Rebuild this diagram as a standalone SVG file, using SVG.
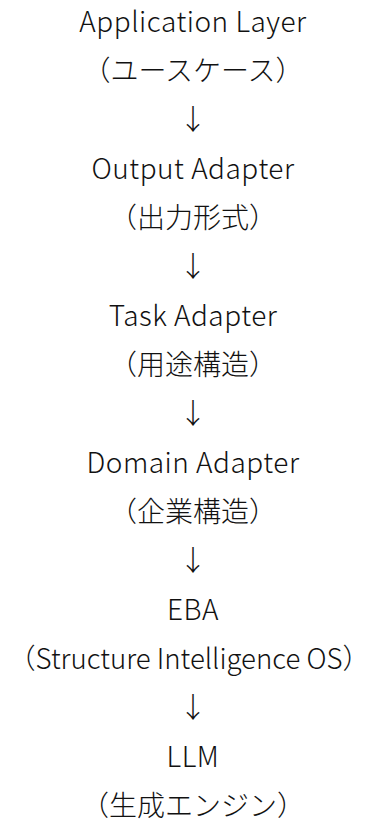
<svg xmlns="http://www.w3.org/2000/svg" width="377" height="823" viewBox="0 0 377 823">
<style>
text{font-family:"Noto Sans CJK JP","Noto Sans",sans-serif;font-size:28px;font-weight:300;fill:#111111;text-anchor:middle;}
.lat{letter-spacing:0.5px;}
</style>
<rect width="377" height="823" fill="#ffffff"/>
<g id="n-app"><text class="lat" x="193" y="32">Application Layer</text><text x="193" y="81">（ユースケース）</text></g>
<g id="n-output"><text class="lat" x="193" y="179">Output Adapter</text><text x="193" y="228">（出力形式）</text></g>
<g id="n-task"><text class="lat" x="193" y="326">Task Adapter</text><text x="193" y="375">（用途構造）</text></g>
<g id="n-domain"><text class="lat" x="193" y="473">Domain Adapter</text><text x="193" y="522">（企業構造）</text></g>
<g id="n-eba"><text class="lat" x="193" y="620">EBA</text><text x="189" y="669" textLength="362" lengthAdjust="spacingAndGlyphs">（Structure Intelligence OS）</text></g>
<g id="n-llm"><text class="lat" x="193" y="767">LLM</text><text x="193" y="816">（生成エンジン）</text></g>
<g id="connectors">
<text x="193" y="130">↓</text>
<text x="193" y="277">↓</text>
<text x="193" y="424">↓</text>
<text x="193" y="571">↓</text>
<text x="193" y="718">↓</text>
</g>
</svg>
